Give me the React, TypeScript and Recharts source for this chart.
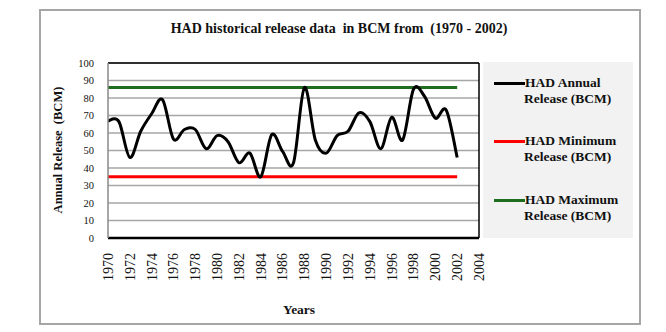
import React from 'react';
import { LineChart, Line, XAxis, YAxis, CartesianGrid, ReferenceLine } from 'recharts';

const years = [1970, 1971, 1972, 1973, 1974, 1975, 1976, 1977, 1978, 1979, 1980, 1981, 1982, 1983, 1984, 1985, 1986, 1987, 1988, 1989, 1990, 1991, 1992, 1993, 1994, 1995, 1996, 1997, 1998, 1999, 2000, 2001, 2002];
const annualRelease = [67, 66.5, 46, 61, 71, 79, 56.5, 62, 62, 51, 58.5, 55, 43, 48.5, 35, 59, 49.5, 43, 86, 56, 48.5, 58.5, 61, 71.5, 66.5, 51, 69, 56, 85, 81, 68.5, 73, 46];
const minimumRelease = [35, 35, 35, 35, 35, 35, 35, 35, 35, 35, 35, 35, 35, 35, 35, 35, 35, 35, 35, 35, 35, 35, 35, 35, 35, 35, 35, 35, 35, 35, 35, 35, 35];
const maximumRelease = [86, 86, 86, 86, 86, 86, 86, 86, 86, 86, 86, 86, 86, 86, 86, 86, 86, 86, 86, 86, 86, 86, 86, 86, 86, 86, 86, 86, 86, 86, 86, 86, 86];
const xTicks = [1970, 1972, 1974, 1976, 1978, 1980, 1982, 1984, 1986, 1988, 1990, 1992, 1994, 1996, 1998, 2000, 2002, 2004];
const yTicks = [0, 10, 20, 30, 40, 50, 60, 70, 80, 90, 100];

const chartTitle = 'HAD historical release data  in BCM from  (1970 - 2002)';
const xTitle = 'Years';
const yTitle = 'Annual Release  (BCM)';
const legendItems = [
  { lines: ['HAD Annual', 'Release (BCM)'], color: '#000000' },
  { lines: ['HAD Minimum', 'Release (BCM)'], color: '#ff0000' },
  { lines: ['HAD Maximum', 'Release (BCM)'], color: '#1f6e1f' },
];

const data = years.map((y, i) => ({
  year: y,
  annual: annualRelease[i],
  min: minimumRelease[i],
  max: maximumRelease[i],
}));

const FONT = '"Liberation Serif", "Times New Roman", serif';

function smoothCurve(context: any) {
  let pts: number[][] = [];
  return {
    areaStart() {},
    areaEnd() {},
    lineStart() {
      pts = [];
    },
    point(x: number, y: number) {
      pts.push([+x, +y]);
    },
    lineEnd() {
      const n = pts.length;
      if (!n) return;
      context.moveTo(pts[0][0], pts[0][1]);
      for (let i = 0; i < n - 1; i++) {
        const p0 = pts[i - 1] || pts[i];
        const p1 = pts[i];
        const p2 = pts[i + 1];
        const p3 = pts[i + 2] || p2;
        context.bezierCurveTo(
          p1[0] + (p2[0] - p0[0]) / 6,
          p1[1] + (p2[1] - p0[1]) / 6,
          p2[0] - (p3[0] - p1[0]) / 6,
          p2[1] - (p3[1] - p1[1]) / 6,
          p2[0],
          p2[1]
        );
      }
    },
  };
}

const XTick = (props: any) => {
  const { x, y, payload } = props;
  return (
    <text
      x={x}
      y={y}
      transform={`rotate(-90, ${x}, ${y})`}
      textAnchor="end"
      dy="0.35em"
      fontFamily={FONT}
      fontSize={14}
      fill="#111"
    >
      {payload.value}
    </text>
  );
};

const YTick = (props: any) => {
  const { x, y, payload } = props;
  return (
    <text x={x} y={y} textAnchor="end" dy="0.35em" fontFamily={FONT} fontSize={10.5} fill="#111">
      {payload.value}
    </text>
  );
};

export default function App() {
  return (
    <div style={{ position: 'absolute', left: 0, top: 0, width: 666, height: 332, background: '#fff', fontFamily: FONT }}>
      <div
        style={{
          position: 'absolute',
          left: 39,
          top: 9,
          width: 598,
          height: 312,
          border: '2px solid #a6a6a6',
        }}
      />
      <div
        style={{
          position: 'absolute',
          left: 483,
          top: 62,
          width: 150,
          height: 176,
          background: '#f2f2f2',
        }}
      />
      <div style={{ position: 'absolute', left: 0, top: 0 }}>
        <LineChart width={666} height={332} data={data} margin={{ top: 63, right: 187, bottom: 34, left: 68 }}>
          <CartesianGrid horizontal vertical={false} stroke="#a6a6a6" strokeWidth={1.5} />
          <XAxis
            dataKey="year"
            type="number"
            domain={[1970, 2004]}
            ticks={xTicks}
            interval={0}
            height={60}
            tickSize={0}
            tickMargin={15}
            tick={<XTick />}
            axisLine={{ stroke: '#000', strokeWidth: 2.5 }}
            tickLine={false}
          />
          <YAxis
            type="number"
            domain={[0, 100]}
            ticks={yTicks}
            interval={0}
            width={40}
            tickSize={0}
            tickMargin={14}
            tick={<YTick />}
            axisLine={{ stroke: '#888', strokeWidth: 1.5 }}
            tickLine={false}
          />
          <ReferenceLine y={100} stroke="#000" strokeWidth={1.5} />
          <ReferenceLine x={2004} stroke="#000" strokeWidth={1.5} />
          <Line
            dataKey="min"
            stroke="#ff0000"
            strokeWidth={3}
            dot={false}
            activeDot={false}
            type="linear"
            isAnimationActive={false}
          />
          <Line
            dataKey="max"
            stroke="#1f6e1f"
            strokeWidth={3}
            dot={false}
            activeDot={false}
            type="linear"
            isAnimationActive={false}
          />
          <Line
            dataKey="annual"
            stroke="#000"
            strokeWidth={3}
            dot={false}
            activeDot={false}
            type={smoothCurve as any}
            isAnimationActive={false}
          />
        </LineChart>
      </div>
      <div
        style={{
          position: 'absolute',
          left: 39,
          width: 600,
          top: 20,
          textAlign: 'center',
          fontWeight: 'bold',
          fontSize: 14,
          lineHeight: '18px',
          whiteSpace: 'pre',
          color: '#111',
        }}
      >
        {chartTitle}
      </div>
      <div
        style={{
          position: 'absolute',
          left: 199,
          width: 200,
          top: 301,
          textAlign: 'center',
          fontWeight: 'bold',
          fontSize: 13.5,
          lineHeight: '18px',
          color: '#111',
        }}
      >
        {xTitle}
      </div>
      <div
        style={{
          position: 'absolute',
          left: 58 - 100,
          top: 150 - 9,
          width: 200,
          height: 18,
          lineHeight: '18px',
          textAlign: 'center',
          fontWeight: 'bold',
          fontSize: 12.5,
          whiteSpace: 'pre',
          transform: 'rotate(-90deg)',
          color: '#111',
        }}
      >
        {yTitle}
      </div>
      {legendItems.map((item, i) => {
        const top = [83, 141, 200][i];
        return (
          <React.Fragment key={i}>
            <div
              style={{
                position: 'absolute',
                left: 494,
                top: top - 1.5,
                width: 31,
                height: 3,
                background: item.color,
              }}
            />
            <div
              style={{
                position: 'absolute',
                left: 525,
                top: top - 8.5,
                fontWeight: 'bold',
                fontSize: 13.5,
                lineHeight: '16.5px',
                color: '#111',
                whiteSpace: 'nowrap',
              }}
            >
              <div>{item.lines[0]}</div>
              <div style={{ marginLeft: -1 }}>{item.lines[1]}</div>
            </div>
          </React.Fragment>
        );
      })}
    </div>
  );
}
